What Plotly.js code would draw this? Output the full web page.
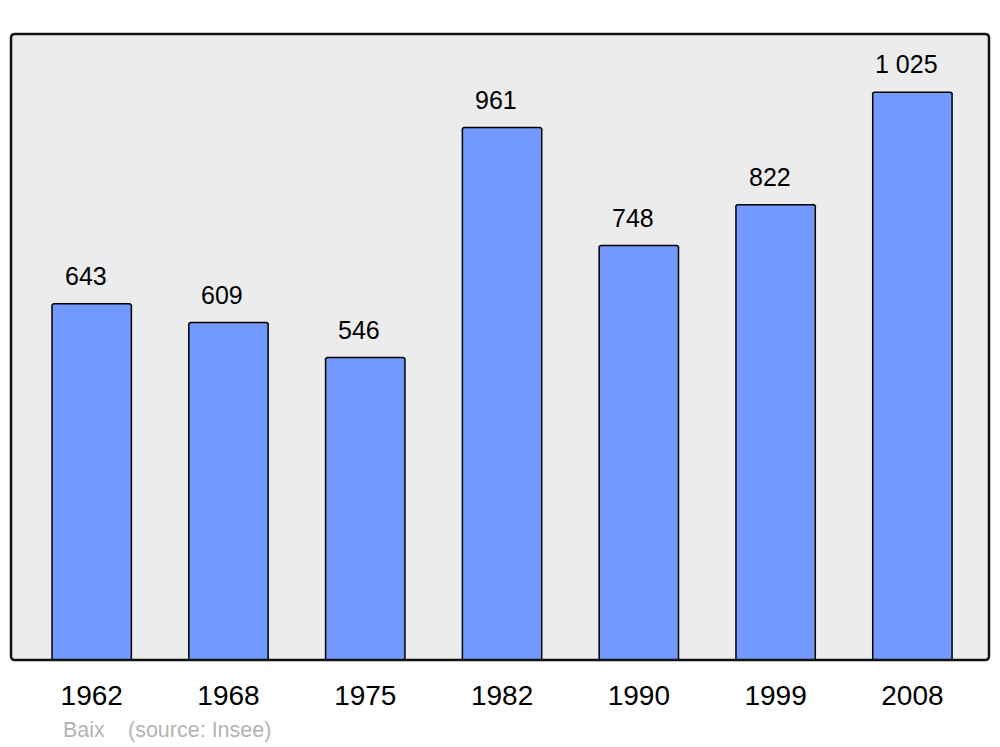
<!DOCTYPE html>
<html>
<head>
<meta charset="utf-8">
<script src="https://cdn.plot.ly/plotly-3.0.1.min.js"></script>
<style>html,body{margin:0;padding:0;background:#fff;}#chart{width:1000px;height:747px;}</style>
</head>
<body>
<div id="chart"></div>
<script>
const years = ["1962", "1968", "1975", "1982", "1990", "1999", "2008"];
const population = [643, 609, 546, 961, 748, 822, 1025];
const valueLabels = ["643", "609", "546", "961", "748", "822", "1 025"];
const placeName = "Baix";
const sourceText = "(source: Insee)";

const W = 1000, H = 747;
const mL = 11, mR = 11, mT = 34, mB = 87;
const pw = W - mL - mR, ph = H - mT - mB;
const rx = 4 / pw, ry = 4 / ph;
const borderPath = `M ${rx} 1 L ${1 - rx} 1 Q 1 1 1 ${1 - ry} L 1 ${ry} Q 1 0 ${1 - rx} 0 L ${rx} 0 Q 0 0 0 ${ry} L 0 ${1 - ry} Q 0 1 ${rx} 1 Z`;

const trace = {
  type: "bar",
  x: years,
  y: population,
  width: 0.58,
  marker: { color: "#7299ff", line: { color: "#000", width: 1.5 }, cornerradius: 3 },
  hoverinfo: "skip"
};

const annotations = years.map((yr, i) => ({
  x: i, y: population[i], xref: "x", yref: "y",
  text: valueLabels[i], showarrow: false,
  xshift: -6, yshift: 28, yanchor: "middle",
  font: { family: "Liberation Sans, Arial, sans-serif", size: 25, color: "#000" }
}));
annotations.push({
  xref: "paper", yref: "paper", x: (61 - mL) / pw, y: -(730 - (mT + ph)) / ph,
  xanchor: "left", yanchor: "middle", showarrow: false, text: placeName,
  font: { family: "Liberation Sans, Arial, sans-serif", size: 21.5, color: "#b3b3b3" }
});
annotations.push({
  xref: "paper", yref: "paper", x: (126 - mL) / pw, y: -(730 - (mT + ph)) / ph,
  xanchor: "left", yanchor: "middle", showarrow: false, text: sourceText,
  font: { family: "Liberation Sans, Arial, sans-serif", size: 21.5, color: "#b3b3b3" }
});

const layout = {
  width: W, height: H,
  margin: { l: mL, r: mR, t: mT, b: mB, pad: 0 },
  paper_bgcolor: "#ffffff",
  plot_bgcolor: "#ececec",
  showlegend: false,
  bargap: 0,
  xaxis: {
    type: "category",
    range: [-0.59, 6.56],
    showgrid: false, zeroline: false, showline: false,
    ticks: "outside", ticklen: 10, tickcolor: "rgba(0,0,0,0)",
    tickfont: { family: "Liberation Sans, Arial, sans-serif", size: 28, color: "#000" },
    fixedrange: true
  },
  yaxis: {
    range: [0, 1130],
    showgrid: false, zeroline: false, showline: false,
    showticklabels: false, ticks: "",
    fixedrange: true
  },
  shapes: [{
    type: "path", xref: "paper", yref: "paper", path: borderPath,
    line: { color: "#111", width: 2.5 }, fillcolor: "rgba(0,0,0,0)", layer: "above"
  }],
  annotations: annotations
};

Plotly.newPlot("chart", [trace], layout, { displayModeBar: false, staticPlot: true });
</script>
</body>
</html>
